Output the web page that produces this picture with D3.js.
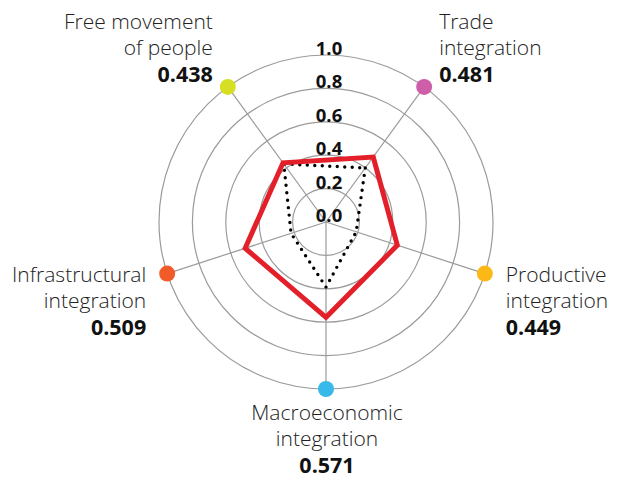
<!DOCTYPE html>
<html>
<head>
<meta charset="utf-8">
<script src="https://cdn.jsdelivr.net/npm/d3@7"></script>
<style>
  body { margin: 0; background: #fff; }
  text { font-family: "Open Sans", "Noto Sans", sans-serif; }
</style>
</head>
<body>
<div id="radar"></div>
<script>
// dimensions, clockwise from the top
var axisLines = [
  ["Trade", "integration"],
  ["Productive", "integration"],
  ["Macroeconomic", "integration"],
  ["Infrastructural", "integration"],
  ["Free movement", "of people"]
];
var scores = [0.481, 0.449, 0.571, 0.509, 0.438];
var benchmark = [0.40, 0.19, 0.39, 0.22, 0.43];
var dotColors = ["#cf5ea8", "#fbb817", "#37b9ea", "#f15a29", "#d6df23"];
var ticks = [0, 0.2, 0.4, 0.6, 0.8, 1.0];

var svgWidth = 622;
var svgHeight = 478;
var cx = 326, cy = 222;

var svg = d3.select("#radar")
  .append("svg")
  .attr("width", svgWidth)
  .attr("height", svgHeight);

var chart = svg.append("g")
  .attr("transform", `translate(${cx}, ${cy})`);

var r = d3.scaleLinear().domain([0, 1]).range([0, 167]);
var angle = d3.scaleLinear().domain([0, axisLines.length]).range([0, 2 * Math.PI]);
var ang = i => angle(i) + Math.PI / 5;

// grid rings
chart.selectAll(".ring")
  .data(ticks.filter(d => d > 0))
  .enter()
  .append("circle")
  .attr("r", d => r(d))
  .attr("fill", "none")
  .attr("stroke", "#9b9b9b")
  .attr("stroke-width", 1.2);

// spokes
chart.selectAll(".spoke")
  .data(axisLines)
  .enter()
  .append("line")
  .attr("x1", 0).attr("y1", 0)
  .attr("x2", (d, i) => r(1) * Math.sin(ang(i)))
  .attr("y2", (d, i) => -r(1) * Math.cos(ang(i)))
  .attr("stroke", "#9b9b9b")
  .attr("stroke-width", 1.2);

// tick labels
chart.selectAll(".tick")
  .data(ticks)
  .enter()
  .append("text")
  .attr("x", 3)
  .attr("y", d => -r(d))
  .attr("text-anchor", "middle")
  .style("font-size", "18.5px")
  .style("font-weight", 700)
  .attr("fill", "#111")
  .text(d => d.toFixed(1));

var radial = d3.lineRadial()
  .angle((d, i) => ang(i))
  .radius(d => r(d))
  .curve(d3.curveLinearClosed);

// benchmark (dotted)
chart.append("path")
  .attr("d", radial(benchmark))
  .attr("fill", "none")
  .attr("stroke", "#000")
  .attr("stroke-width", 3.4)
  .attr("stroke-linecap", "round")
  .attr("stroke-dasharray", "0,7.5");

// scores
chart.append("path")
  .attr("d", radial(scores))
  .attr("fill", "none")
  .attr("stroke", "#e3202a")
  .attr("stroke-width", 5)
  .attr("stroke-linejoin", "miter");

// end dots
chart.selectAll(".dot")
  .data(dotColors)
  .enter()
  .append("circle")
  .attr("cx", (d, i) => r(1) * Math.sin(ang(i)))
  .attr("cy", (d, i) => -r(1) * Math.cos(ang(i)))
  .attr("r", 8)
  .attr("fill", d => d);

// axis labels
axisLines.forEach(function(lines, i) {
  var s = Math.sin(ang(i)), c = Math.cos(ang(i));
  var x = r(1) * s, y = -r(1) * c;
  var top = c > 0.5, side = c > -0.5;
  var anchor = s > 0.1 ? "start" : (s < -0.1 ? "end" : "middle");
  var off = top ? 15 : 21;
  var dx = s > 0.1 ? off : (s < -0.1 ? -off : 1);
  var y0 = top ? y - 58 : (side ? y + 8 : y + 31);
  var t = chart.append("text")
    .attr("text-anchor", anchor)
    .attr("fill", "#222");
  lines.forEach(function(l, j) {
    t.append("tspan")
      .attr("x", x + dx)
      .attr("y", y0 + j * 26)
      .style("font-size", "21px")
      .style("font-weight", 300)
      .text(l);
  });
  t.append("tspan")
    .attr("x", x + dx)
    .attr("y", y0 + lines.length * 26 + 1)
    .style("font-size", "21.5px")
    .style("font-weight", 700)
    .attr("fill", "#111")
    .text(scores[i].toFixed(3));
});
</script>
</body>
</html>
